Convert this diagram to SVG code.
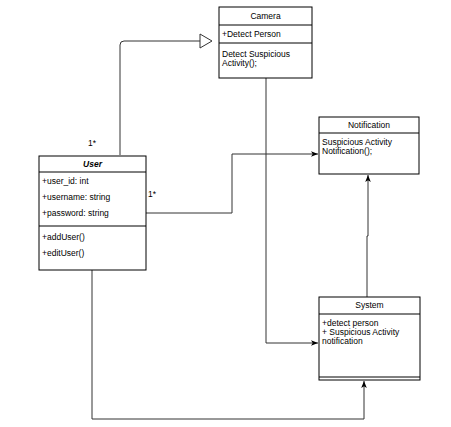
<svg xmlns="http://www.w3.org/2000/svg" width="451" height="427" viewBox="0 0 451 427">
<defs>
<style>
.box{fill:#fff;stroke:#000;stroke-width:1}
.ln{fill:none;stroke:#000;stroke-width:1}
.t{font-family:"Liberation Sans",Arial,sans-serif;font-size:8.5px;fill:#000}
.c{text-anchor:middle}
.cn{fill:none;stroke:#333;stroke-width:1}
</style>
<marker id="arr" viewBox="0 0 10 10" refX="10" refY="5" markerWidth="7" markerHeight="7" orient="auto" markerUnits="userSpaceOnUse">
<path d="M0,1 L10,5 L0,9 L2.5,5 z" fill="#000"/>
</marker>
</defs>
<rect width="451" height="427" fill="#fff"/>
<g id="connectors">
<path class="cn" d="M120,155 V45 Q120,41 124,41 H200"/>
<path d="M200,34 L212,41 L200,48 z" fill="#fff" stroke="#333"/>
<path class="cn" d="M146,213 H232 V154 H318" marker-end="url(#arr)"/>
<path class="cn" d="M266,78 V343 H318" marker-end="url(#arr)"/>
<path class="cn" d="M367,297 V236 H368 V175" marker-end="url(#arr)"/>
<path class="cn" d="M92,270 V419 H364 V381" marker-end="url(#arr)"/>
<text class="t" x="88" y="146">1*</text>
<text class="t" x="148" y="197">1*</text>
</g>
<g id="camera">
<rect class="box" x="219" y="7" width="93" height="71"/>
<line class="ln" x1="219" y1="25" x2="312" y2="25"/>
<line class="ln" x1="219" y1="43" x2="312" y2="43"/>
<text class="t c" x="265.5" y="19">Camera</text>
<text class="t" x="222" y="37">+Detect Person</text>
<text class="t" x="222" y="57">Detect Suspicious</text>
<text class="t" x="222" y="66">Activity();</text>
</g>
<g id="user">
<rect class="box" x="39" y="156" width="107" height="114"/>
<line class="ln" x1="39" y1="172" x2="146" y2="172"/>
<line class="ln" x1="39" y1="226" x2="146" y2="226"/>
<text class="t c" x="92.5" y="167" font-weight="bold" font-style="italic" font-size="9.5">User</text>
<text class="t" x="42" y="184">+user_id: int</text>
<text class="t" x="42" y="200">+username: string</text>
<text class="t" x="42" y="216">+password: string</text>
<text class="t" x="42" y="240">+addUser()</text>
<text class="t" x="42" y="256">+editUser()</text>
</g>
<g id="notification">
<rect class="box" x="319" y="117" width="100" height="57"/>
<line class="ln" x1="319" y1="133" x2="419" y2="133"/>
<text class="t c" x="369" y="128">Notification</text>
<text class="t" x="322" y="145">Suspicious Activity</text>
<text class="t" x="322" y="154">Notification();</text>
</g>
<g id="system">
<rect class="box" x="319" y="297" width="101" height="83"/>
<line class="ln" x1="319" y1="314" x2="420" y2="314"/>
<line class="ln" x1="319" y1="377" x2="420" y2="377"/>
<text class="t c" x="369.5" y="308">System</text>
<text class="t" x="322" y="326">+detect person</text>
<text class="t" x="322" y="335">+ Suspicious Activity</text>
<text class="t" x="322" y="344">notification</text>
</g>
</svg>
